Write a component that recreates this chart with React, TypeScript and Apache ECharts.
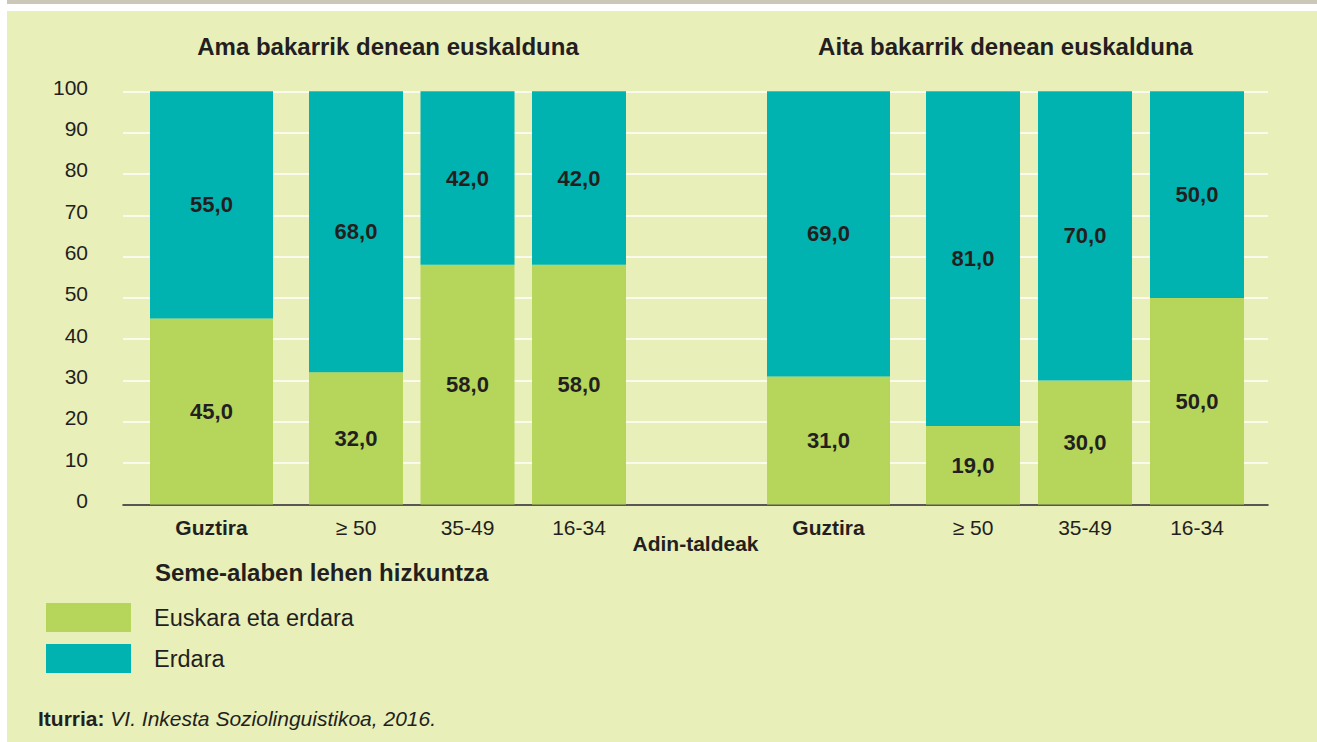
import React, { useEffect, useRef } from "react";
import * as echarts from "echarts";

// ---- data ----
const groupTitles = ["Ama bakarrik denean euskalduna", "Aita bakarrik denean euskalduna"];
const categories = ["Guztira", "≥ 50", "35-49", "16-34"];
const seriesNames = ["Euskara eta erdara", "Erdara"];
const euskaraErdaraAma = [45, 32, 58, 58];
const erdaraAma = [55, 68, 42, 42];
const euskaraErdaraAita = [31, 19, 30, 50];
const erdaraAita = [69, 81, 70, 50];
const yMin = 0;
const yMax = 100;
const yInterval = 10;
const xAxisName = "Adin-taldeak";
const legendTitle = "Seme-alaben lehen hizkuntza";
const sourceLabel = "Iturria:";
const sourceText = "VI. Inkesta Soziolinguistikoa, 2016.";

const GREEN = "#b6d55b";
const TEAL = "#00b2b0";
const TEXT = "#231f20";
const BG = "#e9efb9";
const FONT = "'Liberation Sans', Arial, Helvetica, sans-serif";

const fmt = (p: any) => Number(p.value).toFixed(1).replace(".", ",");

export default function App() {
  const ref = useRef<HTMLDivElement>(null);

  useEffect(() => {
    if (!ref.current) return;
    const chart = echarts.init(ref.current, undefined, { renderer: "svg" });

    const top = 91.3;
    const bottom = 742 - 504.5;
    const barGrids = [
      { left: 150, width: 123 },
      { left: 300.25, width: 334.5 },
      { left: 767, width: 123 },
      { left: 917, width: 336 },
    ];

    const grids: any[] = [
      { left: 123, right: 49, top, bottom, containLabel: false },
      ...barGrids.map((g) => ({ left: g.left, width: g.width, top, bottom, containLabel: false })),
    ];

    const gridCats = [
      [categories[0]],
      categories.slice(1),
      [categories[0]],
      categories.slice(1),
    ];

    const xAxes: any[] = [
      {
        type: "category",
        gridIndex: 0,
        data: [""],
        axisLine: { show: true, lineStyle: { color: TEXT, width: 1.5 } },
        axisTick: { show: false },
        axisLabel: { show: false },
        name: xAxisName,
        nameLocation: "middle",
        nameGap: 28,
        nameTextStyle: { color: TEXT, fontSize: 21, fontWeight: "bold", fontFamily: FONT },
      },
      ...gridCats.map((cats, i) => ({
        type: "category",
        gridIndex: i + 1,
        data: cats,
        axisLine: { show: false },
        axisTick: { show: false },
        axisLabel: {
          color: TEXT,
          fontSize: 21,
          fontFamily: FONT,
          fontWeight: i % 2 === 0 ? "bold" : "normal",
          margin: 12,
        },
      })),
    ];

    const yAxes: any[] = [
      {
        type: "value",
        gridIndex: 0,
        min: yMin,
        max: yMax,
        interval: yInterval,
        axisLine: { show: false },
        axisTick: { show: false },
        axisLabel: {
          color: TEXT,
          fontSize: 21,
          fontFamily: FONT,
          margin: 35,
          verticalAlign: "bottom",
          lineHeight: 8,
        },
        splitLine: { show: true, lineStyle: { color: "#ffffff", width: 1.5 } },
      },
      ...barGrids.map((_, i) => ({
        type: "value",
        gridIndex: i + 1,
        min: yMin,
        max: yMax,
        interval: yInterval,
        show: false,
        splitLine: { show: false },
      })),
    ];

    const groupData = [
      [euskaraErdaraAma.slice(0, 1), erdaraAma.slice(0, 1)],
      [euskaraErdaraAma.slice(1), erdaraAma.slice(1)],
      [euskaraErdaraAita.slice(0, 1), erdaraAita.slice(0, 1)],
      [euskaraErdaraAita.slice(1), erdaraAita.slice(1)],
    ];

    const series: any[] = [];
    groupData.forEach((pair, gi) => {
      pair.forEach((vals, si) => {
        series.push({
          type: "bar",
          name: seriesNames[si],
          xAxisIndex: gi + 1,
          yAxisIndex: gi + 1,
          stack: "s" + gi,
          data: vals,
          barWidth: gi % 2 === 0 ? 123 : 94,
          itemStyle: { color: si === 0 ? GREEN : TEAL },
          label: {
            show: true,
            position: "inside",
            formatter: fmt,
            color: TEXT,
            fontSize: 22,
            fontWeight: "bold",
            fontFamily: FONT,
          },
          emphasis: { disabled: true },
        });
      });
    });

    const option: any = {
      animation: false,
      backgroundColor: "#ffffff",
      graphic: [
        { type: "rect", silent: true, z: -100, shape: { x: 7, y: 0, width: 1310, height: 4 }, style: { fill: "#cbc7b9" } },
        { type: "rect", silent: true, z: -100, shape: { x: 7, y: 11, width: 1310, height: 731 }, style: { fill: BG } },
      ],
      title: [
        {
          text: groupTitles[0],
          left: 388,
          top: 34,
          textAlign: "center",
          padding: 0,
          textStyle: { color: TEXT, fontSize: 24, fontWeight: "bold", fontFamily: FONT },
        },
        {
          text: groupTitles[1],
          left: 1005.5,
          top: 34,
          textAlign: "center",
          padding: 0,
          textStyle: { color: TEXT, fontSize: 24, fontWeight: "bold", fontFamily: FONT },
        },
        {
          text: legendTitle,
          left: 155,
          top: 560,
          padding: 0,
          textStyle: { color: TEXT, fontSize: 24, fontWeight: "bold", fontFamily: FONT },
        },
        {
          text: "{b|" + sourceLabel + "} {i|" + sourceText + "}",
          left: 38,
          top: 708,
          padding: 0,
          textStyle: {
            color: TEXT,
            fontSize: 21,
            fontWeight: "normal",
            fontFamily: FONT,
            rich: {
              b: { fontWeight: "bold", fontSize: 21, color: TEXT, fontFamily: FONT },
              i: { fontStyle: "italic", fontWeight: "normal", fontSize: 21, color: TEXT, fontFamily: FONT },
            },
          },
        },
      ],
      legend: {
        data: seriesNames,
        orient: "vertical",
        left: 46,
        top: 603,
        padding: 0,
        itemWidth: 85,
        itemHeight: 29,
        itemGap: 12,
        icon: "rect",
        selectedMode: false,
        textStyle: { color: TEXT, fontSize: 23.5, fontFamily: FONT, padding: [0, 0, 0, 18] },
      },
      grid: grids,
      xAxis: xAxes,
      yAxis: yAxes,
      series,
    };

    chart.setOption(option);
    return () => chart.dispose();
  }, []);

  return (
    <div
      ref={ref}
      style={{ position: "absolute", left: 0, top: 0, width: 1317, height: 742 }}
    />
  );
}
